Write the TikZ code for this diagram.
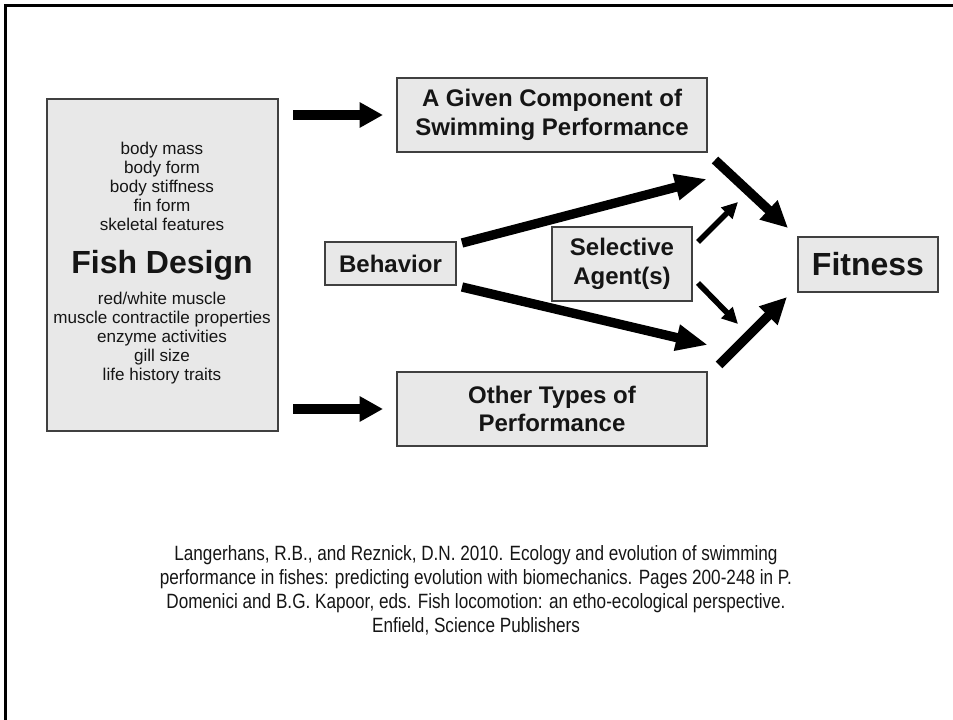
\documentclass[tikz,border=0pt]{standalone}
\usepackage{fontspec}
\setmainfont{Liberation Sans}
\newfontfamily\narrowfont[FakeStretch=0.83]{Liberation Sans}
\usetikzlibrary{arrows.meta}
\definecolor{boxfill}{HTML}{E8E8E8}
\definecolor{boxline}{HTML}{404040}
\definecolor{txt}{HTML}{151515}
\tikzset{
  pbox/.style={draw=boxline, line width=1.5pt, fill=boxfill, inner sep=0pt, align=center, text=txt},
  titlefont/.style={font=\bfseries\fontsize{18}{21.5}\selectfont},
  bigfont/.style={font=\bfseries\fontsize{24}{28}\selectfont},
  listtext/.style={align=center, inner sep=0pt, text=txt, font=\fontsize{12.8}{14.25}\selectfont},
  fatarrow/.style={line width=7.5pt, -{Triangle[length=17.5pt, width=18pt]}},
  longarrow/.style={line width=7pt, -{Triangle[length=24pt, width=18.5pt]}},
  diagarrow/.style={line width=7pt, -{Triangle[length=20pt, width=18.5pt]}},
  thinarrow/.style={line width=4.2pt, -{Triangle[length=12pt, width=11.5pt]}},
}
\begin{document}
\begin{tikzpicture}[x=0.75pt, y=-0.75pt]
\useasboundingbox (0,0) rectangle (953,720);
% frame
\coordinate (fbl) at (5.5,720);
\coordinate (ftl) at (5.5,5.5);
\coordinate (ftr) at (953,5.5);
\draw[line width=2.3pt] (fbl) -- (ftl) -- (ftr);

% boxes
\node[pbox, minimum width=231*0.75pt, minimum height=332*0.75pt] (fish) at (162,265) {};
\node[listtext] (fishtop) at (162,186) {body mass\\body form\\body stiffness\\fin form\\skeletal features};
\node[bigfont, text=txt, inner sep=0pt] (fishtitle) at (162,265) {Fish Design};
\node[listtext] (fishbot) at (162,338) {red/white muscle\\muscle contractile properties\\enzyme activities\\gill size\\life history traits};

\node[pbox, titlefont, minimum width=310*0.75pt, minimum height=74*0.75pt] (given) at (552,115) {A Given Component of\\Swimming Performance};
\node[pbox, titlefont, minimum width=310*0.75pt, minimum height=74*0.75pt] (other) at (552,409) {Other Types of\\Performance};
\node[pbox, titlefont, minimum width=131*0.75pt, minimum height=43*0.75pt] (behav) at (390.5,263.5) {Behavior};
\node[pbox, titlefont, minimum width=140*0.75pt, minimum height=74*0.75pt] (sel) at (622,264) {Selective\\Agent(s)};
\node[pbox, bigfont, minimum width=140*0.75pt, minimum height=55*0.75pt] (fit) at (868,264.5) {Fitness};

% arrow end points
\coordinate (f1s) at (293,115);
\coordinate (f1e) at (383,115);
\coordinate (f2s) at (293,409);
\coordinate (f2e) at (383,409);
\coordinate (b1s) at (462,243);
\coordinate (b1e) at (707,179);
\coordinate (b2s) at (462,287);
\coordinate (b2e) at (708,345);
\coordinate (g1s) at (715,160);
\coordinate (g1e) at (788,228);
\coordinate (o1s) at (719,365);
\coordinate (o1e) at (787,297);
\coordinate (s1s) at (698,242);
\coordinate (s1e) at (738,202);
\coordinate (s2s) at (698,283);
\coordinate (s2e) at (738,324);

\draw[fatarrow] (f1s) -- (f1e);
\draw[fatarrow] (f2s) -- (f2e);
\draw[longarrow] (b1s) -- (b1e);
\draw[longarrow] (b2s) -- (b2e);
\draw[diagarrow] (g1s) -- (g1e);
\draw[diagarrow] (o1s) -- (o1e);
\draw[thinarrow] (s1s) -- (s1e);
\draw[thinarrow] (s2s) -- (s2e);

% citation
\node[align=center, inner sep=0pt, text=txt, font=\narrowfont\fontsize{15.5}{18}\selectfont] (cite) at (476,590)
{Langerhans, R.B., and Reznick, D.N. 2010. Ecology and evolution of swimming\\
performance in fishes: predicting evolution with biomechanics. Pages 200-248 in P.\\
Domenici and B.G. Kapoor, eds. Fish locomotion: an etho-ecological perspective.\\
Enfield, Science Publishers};
\end{tikzpicture}
\end{document}
